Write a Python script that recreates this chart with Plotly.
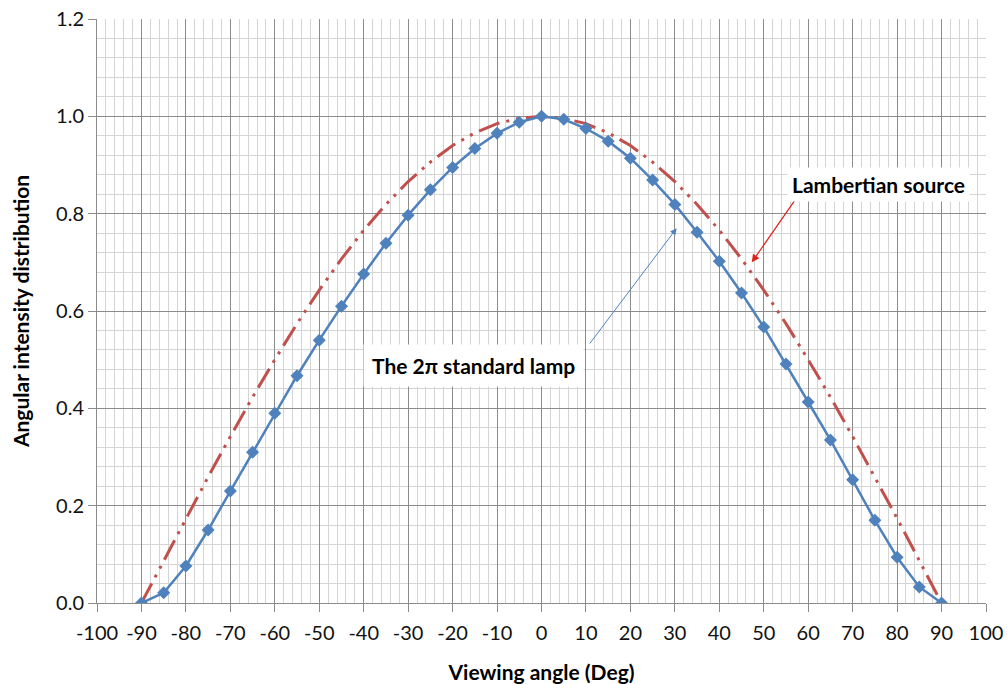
import plotly.graph_objects as go

angles = [-90, -85, -80, -75, -70, -65, -60, -55, -50, -45, -40, -35, -30, -25, -20, -15, -10, -5,
          0, 5, 10, 15, 20, 25, 30, 35, 40, 45, 50, 55, 60, 65, 70, 75, 80, 85, 90]
lamp_2pi = [0.0, 0.021, 0.076, 0.150, 0.230, 0.310, 0.390, 0.467, 0.540, 0.610, 0.676, 0.739,
            0.797, 0.849, 0.895, 0.934, 0.965, 0.988, 1.0, 0.994, 0.975, 0.949, 0.914, 0.869,
            0.819, 0.762, 0.702, 0.637, 0.567, 0.491, 0.413, 0.335, 0.253, 0.170, 0.094, 0.033, 0.0]
lambertian = [0.0, 0.087, 0.174, 0.259, 0.342, 0.423, 0.500, 0.574, 0.643, 0.707, 0.766, 0.819,
              0.866, 0.906, 0.940, 0.966, 0.985, 0.996, 1.0, 0.996, 0.985, 0.966, 0.940, 0.906,
              0.866, 0.819, 0.766, 0.707, 0.643, 0.574, 0.500, 0.423, 0.342, 0.259, 0.174, 0.087, 0.0]
x_ticks = list(range(-100, 101, 10))
y_ticks = [0.0, 0.2, 0.4, 0.6, 0.8, 1.0, 1.2]

FONT = "Lato, 'Open Sans', sans-serif"

fig = go.Figure()
fig.add_trace(go.Scatter(x=angles, y=lambertian, mode="lines", name="Lambertian source",
                         line=dict(color="#C0504D", width=3, dash="22px,7px,3px,7px,3px,7px")))
fig.add_trace(go.Scatter(x=angles, y=lamp_2pi, mode="lines+markers", name="The 2π standard lamp",
                         line=dict(color="#4F81BD", width=2.5),
                         marker=dict(symbol="diamond", size=10, color="#4F81BD")))

fig.add_annotation(x=47.3, y=0.70, ax=57.8, ay=0.838, xref="x", yref="y", axref="x", ayref="y",
                   text="", showarrow=True, arrowhead=2, arrowsize=1.3, arrowwidth=1.2,
                   arrowcolor="#E0201B")
fig.add_annotation(x=30.4, y=0.77, ax=10.6, ay=0.53, xref="x", yref="y", axref="x", ayref="y",
                   text="", showarrow=True, arrowhead=2, arrowsize=1.3, arrowwidth=1,
                   arrowcolor="#4F81BD")
fig.add_annotation(x=75.8, y=0.860, xref="x", yref="y", text="<b>Lambertian source</b>",
                   showarrow=False, bgcolor="white", borderpad=4,
                   font=dict(family=FONT, size=21, color="black"))
fig.add_annotation(x=-15.3, y=0.489, xref="x", yref="y", text="<b>The 2π standard lamp</b>",
                   showarrow=False, bgcolor="white", borderpad=8,
                   font=dict(family=FONT, size=21, color="black"))

fig.update_layout(
    width=1007, height=684, showlegend=False,
    margin=dict(l=97, r=21, t=19, b=81),
    paper_bgcolor="white", plot_bgcolor="white",
    font=dict(family=FONT, size=20, color="#111111"),
)
fig.update_xaxes(range=[-100, 100], tickvals=x_ticks, ticktext=[str(v) for v in x_ticks],
                 showgrid=True, gridcolor="#8C8C8C", gridwidth=1,
                 minor=dict(dtick=2, showgrid=True, gridcolor="#D4D4D4", gridwidth=1),
                 ticks="outside", ticklen=8, tickcolor="#8C8C8C", zeroline=False,
                 showline=True, linecolor="#8C8C8C", automargin=False, ticklabelstandoff=4,
                 title=dict(text="<b>Viewing angle (Deg)</b>", font=dict(family=FONT, size=21, color="black"),
                            standoff=22))
fig.update_yaxes(range=[0, 1.2], tickvals=y_ticks, ticktext=[f"{v:.1f}" for v in y_ticks],
                 showgrid=True, gridcolor="#8C8C8C", gridwidth=1,
                 minor=dict(dtick=0.04, tick0=0, showgrid=True, gridcolor="#D4D4D4", gridwidth=1),
                 ticks="outside", ticklen=8, tickcolor="#8C8C8C", zeroline=False,
                 showline=True, linecolor="#8C8C8C", automargin=False,
                 title=dict(text="<b>Angular intensity distribution</b>", font=dict(family=FONT, size=21, color="black"),
                            standoff=20))

fig.write_html("out.html")
